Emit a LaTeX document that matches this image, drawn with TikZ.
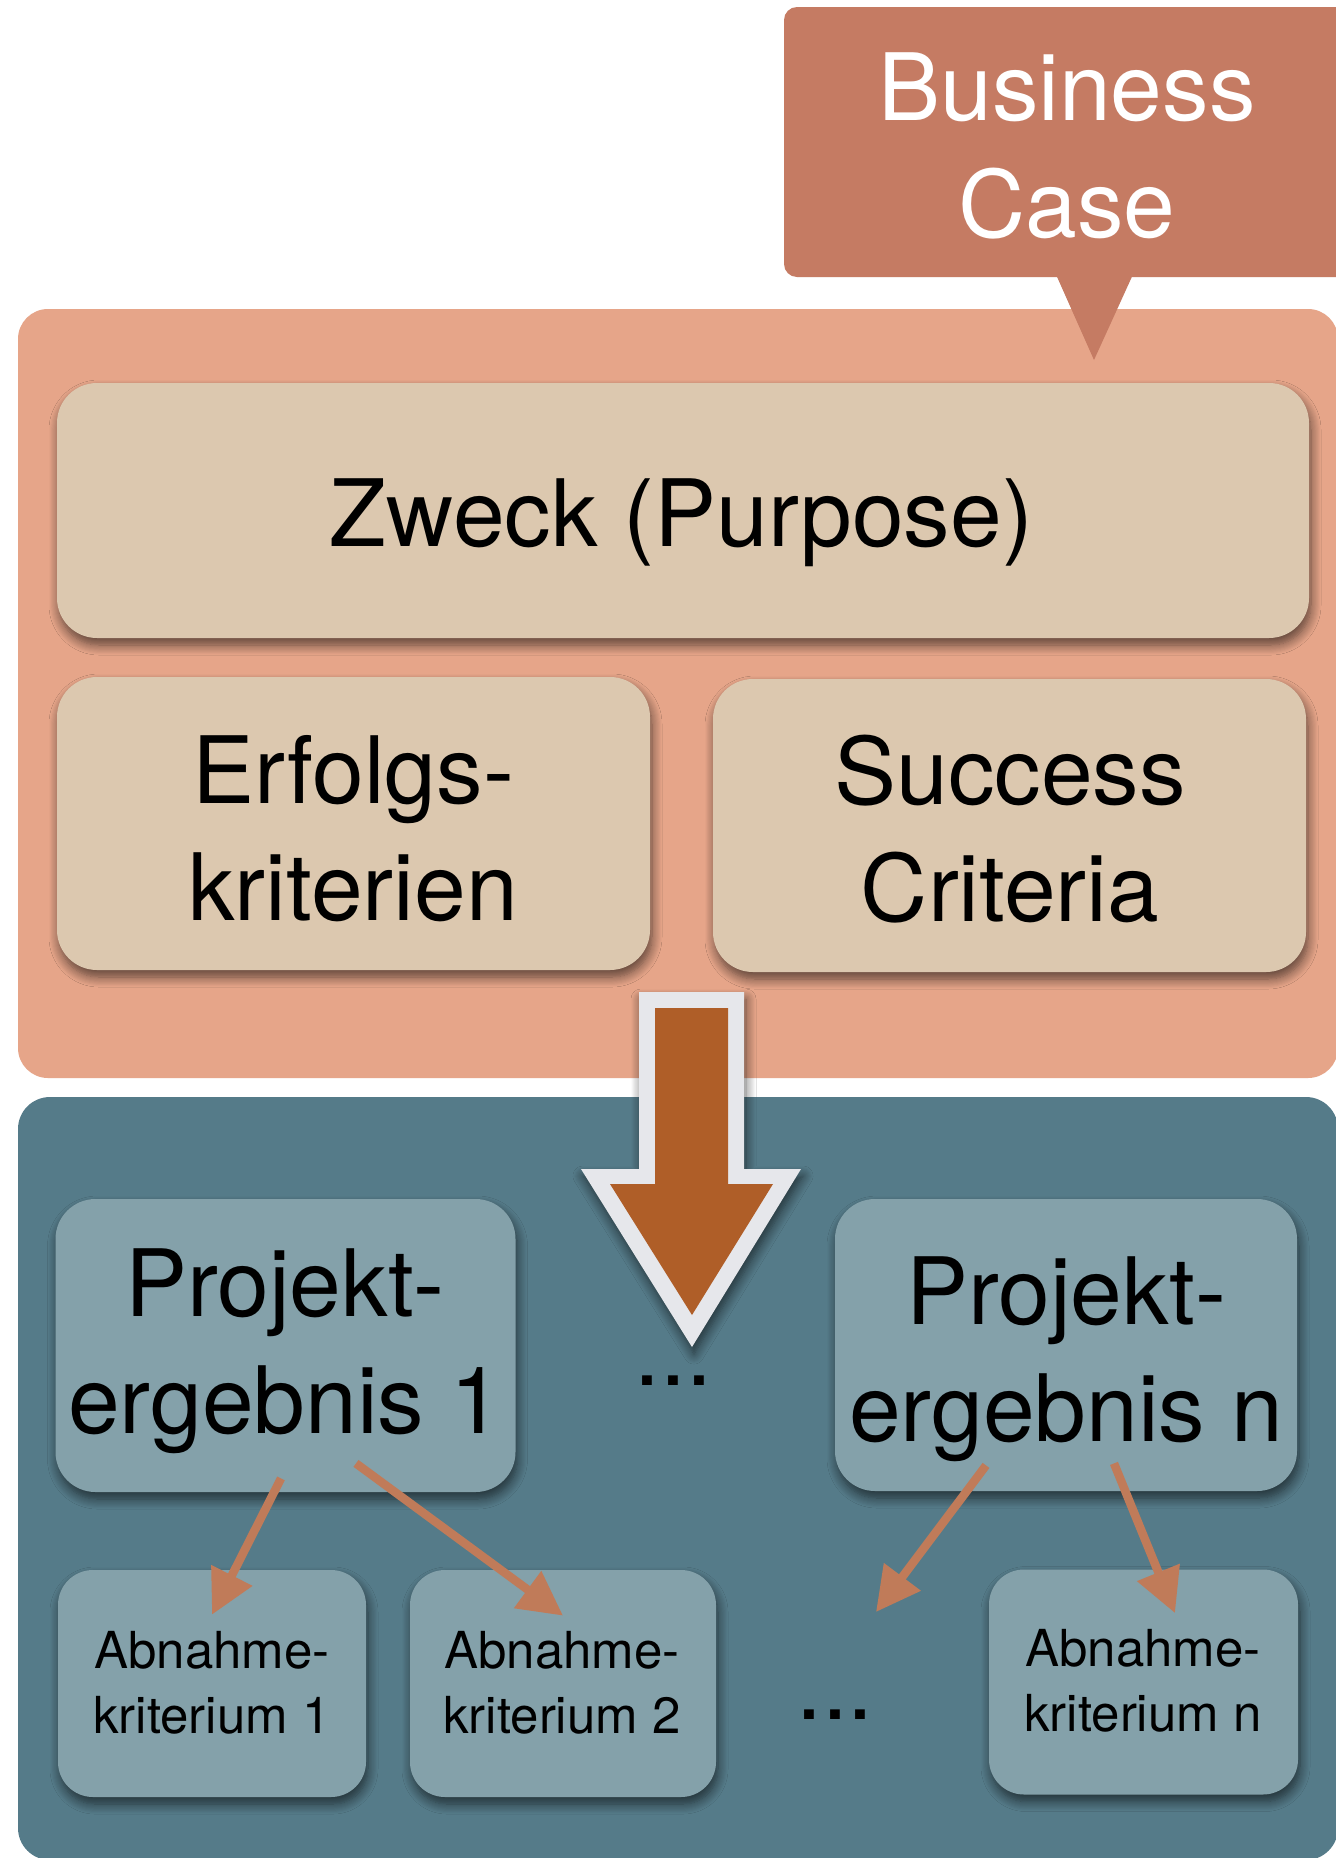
\documentclass[tikz,border=0pt]{standalone}
\usepackage{fontspec}
\setmainfont{TeX Gyre Heros}
\usetikzlibrary{arrows.meta,calc,shadows.blur}

\definecolor{bcfill}{HTML}{C57B63}
\definecolor{purposebg}{HTML}{E6A589}
\definecolor{beige}{HTML}{DCC8AF}
\definecolor{resultbg}{HTML}{557B89}
\definecolor{tealbox}{HTML}{84A1AA}
\definecolor{linkcol}{HTML}{C07B59}
\definecolor{bigarrow}{HTML}{AF5E28}
\definecolor{arrowrim}{HTML}{E6E7EB}

\begin{document}
\begin{tikzpicture}[x=0.5pt,y=-0.5pt,
  softshadow/.style={blur shadow={shadow xshift=1pt, shadow yshift=-3.5pt,
      shadow blur radius=5pt, shadow opacity=60, shadow blur steps=10}},
  box/.style={rectangle, rounded corners=20pt, inner sep=0pt, softshadow},
  beigebox/.style={box, fill=beige},
  tealnode/.style={box, fill=tealbox},
  smallbox/.style={box, fill=tealbox, rounded corners=17.5pt},
  bigtxt/.style={font=\fontsize{46.5pt}{58.5pt}\selectfont, align=center, inner sep=0pt},
  smalltxt/.style={font=\fontsize{25.5pt}{32.5pt}\selectfont, align=center, inner sep=0pt},
  link/.style={draw=linkcol, line width=4.25pt, -{Triangle[length=22pt,width=22pt]}},
]
% canvas
\fill[white] (0,0) rectangle (1336,1858);
\useasboundingbox (0,0) rectangle (1336,1858);

% the two background panels
\fill[purposebg, rounded corners=15pt] (18,309) rectangle (1338,1078);
\fill[resultbg, rounded corners=16pt] (18,1097) rectangle (1338,1860);

% business case callout
\fill[bcfill, rounded corners=6.5pt] (784,7) rectangle (1400,277);
\fill[bcfill] (1054,270) -- (1094,360) -- (1135,270) -- cycle;
\node[bigtxt, text=white] (bc) at (1067,146) {Business\\Case};

% purpose and success criteria
\node[beigebox, minimum width=626pt, minimum height=127.5pt] (zweck) at (683,510.5) {};
\node[beigebox, minimum width=296.5pt, minimum height=146.5pt] (erfolg) at (353.5,823.5) {};
\node[beigebox, minimum width=296.5pt, minimum height=146.5pt] (success) at (1009.5,825.5) {};
\node[bigtxt, anchor=base] (zwecktext) at (681.5,546) {Zweck (Purpose)};
\node[bigtxt] (erfolgtext) at (353,829) {Erfolgs-\\kriterien};
\node[bigtxt] (successtext) at (1010,829) {Success\\Criteria};

% big transition arrow
\path[softshadow, fill=arrowrim] (639,992) -- (744,992) -- (744,1169) -- (801,1169)
  -- (692,1347) -- (581,1169) -- (639,1169) -- cycle;
\fill[bigarrow] (655,1008) -- (728,1008) -- (728,1184) -- (773,1184)
  -- (692,1315) -- (610,1184) -- (655,1184) -- cycle;

% project results
\node[tealnode, minimum width=230pt, minimum height=146.5pt] (p1) at (285.5,1345.5) {};
\node[tealnode, minimum width=231pt, minimum height=146pt] (pn) at (1066,1345) {};
\node[bigtxt] (p1text) at (285,1351) {Projekt-\\ergebnis 1};
\node[bigtxt] (pntext) at (1066,1359) {Projekt-\\ergebnis n};
\node[bigtxt, anchor=base] (dotsmid) at (673.5,1385) {...};

% acceptance criteria
\node[smallbox, minimum width=154pt, minimum height=113.5pt] (a1) at (212,1683.5) {};
\node[smallbox, minimum width=153pt, minimum height=113.5pt] (a2) at (563,1683.5) {};
\node[smallbox, minimum width=154.5pt, minimum height=112.5pt] (an) at (1143.5,1682) {};
\node[smalltxt] (a1text) at (212,1683) {Abnahme-\\kriterium 1};
\node[smalltxt] (a2text) at (562,1683) {Abnahme-\\kriterium 2};
\node[smalltxt] (antext) at (1143,1681) {Abnahme-\\kriterium n};
\node[bigtxt, anchor=base] (dotslow) at (835,1719) {...};
\coordinate (gap) at (876,1612);

% links from results to criteria
\draw[link] ($(p1.south)+(-4.5,-14)$) -- ($(a1.north)+(0,45)$);
\draw[link] ($(p1.south)+(70.5,-29)$) -- ($(a2.north)+(0,46)$);
\draw[link] ($(pn.south)+(-80,-26)$) -- (gap);
\draw[link] ($(pn.south)+(48,-28)$) -- ($(an.north)+(31.5,44)$);
\end{tikzpicture}
\end{document}
